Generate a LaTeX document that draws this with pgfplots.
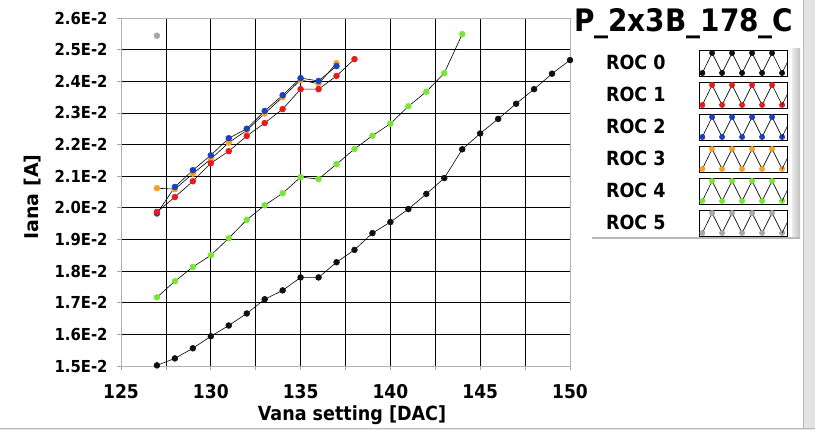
\documentclass[border=0pt]{standalone}
\usepackage{fontspec}
\usepackage{pgfplots}
\pgfplotsset{compat=1.18}
\newfontfamily\cond{DejaVuSansCondensed}[Extension=.ttf, BoldFont=DejaVuSansCondensed-Bold]
\newfontfamily\dvs{DejaVu Sans}
\definecolor{roc0}{HTML}{101010}
\definecolor{roc1}{HTML}{E81A1A}
\definecolor{roc2}{HTML}{1A3FBF}
\definecolor{roc3}{HTML}{F7A124}
\definecolor{roc4}{HTML}{78E632}
\definecolor{roc5}{HTML}{A8A8A8}
\newcommand\legimg[1]{%
  \draw[fill=white, draw=black, line width=0.7bp] (0bp,-13bp) rectangle (88bp,13bp);
  \draw[black, line width=0.6bp] plot[mark=*, mark size=2.6bp, mark options={fill=#1, draw=#1}] coordinates {(3bp,-10bp) (12.7bp,10bp) (22.7bp,-10bp) (32.7bp,10bp) (42.7bp,-10bp) (52.7bp,10bp) (62.7bp,-10bp) (72.7bp,10bp) (82.7bp,-10bp)};
  \draw[black, line width=0.6bp] (82.7bp,-10bp) -- (87.6bp,0bp);
}
\begin{document}
\begin{tikzpicture}[x=1bp,y=1bp]
\path[use as bounding box] (0,0) rectangle (815,430);
\begin{axis}[
  at={(121bp,64bp)}, anchor=south west,
  scale only axis, width=449bp, height=348bp,
  xmin=125, xmax=150, ymin=0.015, ymax=0.026,
  scaled y ticks=false, scaled x ticks=false,
  xtick={125,130,135,140,145,150},
  xticklabels={125,130,135,140,145,150},
  minor xtick={127.5,132.5,137.5,142.5,147.5},
  ytick={0.015,0.016,0.017,0.018,0.019,0.020,0.021,0.022,0.023,0.024,0.025,0.026},
  yticklabels={1.5E-2,1.6E-2,1.7E-2,1.8E-2,1.9E-2,2.0E-2,2.1E-2,2.2E-2,2.3E-2,2.4E-2,2.5E-2,2.6E-2},
  grid=both,
  major grid style={black, line width=0.75bp},
  minor grid style={black, line width=0.75bp},
  axis line style={gray!60, line width=0.75bp},
  tick align=outside, xtick pos=bottom, ytick pos=left,
  major tick length=4bp, minor tick length=4bp,
  tick style={gray!70, line width=0.75bp},
  /pgf/number format/assume math mode=true,
  tick label style={inner sep=0pt},
  xticklabel style={font=\cond\bfseries\fontsize{19bp}{21bp}\selectfont, anchor=north, yshift=-14bp},
  yticklabel style={font=\cond\bfseries\fontsize{16.5bp}{18bp}\selectfont, anchor=east, xshift=-9.3bp},
  xlabel={Vana setting [DAC]},
  xlabel style={at={(axis description cs:0.5145,-0.1572)}, anchor=base, inner sep=0pt, font=\cond\bfseries\fontsize{19.5bp}{21bp}\selectfont},
  ylabel={Iana [A]},
  ylabel style={at={(axis description cs:-0.1842,0.4856)}, anchor=base, inner sep=0pt, font=\dvs\bfseries\fontsize{19bp}{21bp}\selectfont},
  reverse legend,
  legend cell align=left,
  legend plot pos=right,
  legend style={at={(axis description cs:1.0802,0.9091)}, anchor=north west, draw=none, fill=none,
    inner sep=0pt, outer sep=0pt, row sep=5.3bp, column sep=0pt,
    font=\cond\bfseries\fontsize{19.5bp}{21bp}\selectfont, nodes={inner sep=0pt}},
]
\addplot[black, line width=0.6bp, mark=*, mark size=2.9bp, mark options={fill=roc5, draw=roc5}, legend image code/.code={\legimg{roc5}}]
  coordinates {(127,0.02544)};
\addlegendentry{\makebox[93bp][l]{ROC 5}}
\addplot[black, line width=0.6bp, mark=*, mark size=2.9bp, mark options={fill=roc4, draw=roc4}, legend image code/.code={\legimg{roc4}}]
  coordinates {(127,0.01717) (128,0.01768) (129,0.01813) (130,0.01850) (131,0.01904) (132,0.01962) (133,0.02008) (134,0.02046) (135,0.02097) (136,0.02091) (137,0.02138) (138,0.02186) (139,0.02228) (140,0.02266) (141,0.02321) (142,0.02367) (143,0.02426) (144,0.02549)};
\addlegendentry{\makebox[93bp][l]{ROC 4}}
\addplot[black, line width=0.6bp, mark=*, mark size=2.9bp, mark options={fill=roc3, draw=roc3}, legend image code/.code={\legimg{roc3}}]
  coordinates {(127,0.02062) (128,0.02059) (129,0.02108) (130,0.02154) (131,0.02206) (132,0.02245) (133,0.02298) (134,0.02350) (135,0.02404) (136,0.02392) (137,0.02457)};
\addlegendentry{\makebox[93bp][l]{ROC 3}}
\addplot[black, line width=0.6bp, mark=*, mark size=2.9bp, mark options={fill=roc2, draw=roc2}, legend image code/.code={\legimg{roc2}}]
  coordinates {(127,0.01982) (128,0.02066) (129,0.02119) (130,0.02166) (131,0.02220) (132,0.02250) (133,0.02306) (134,0.02356) (135,0.02410) (136,0.02401) (137,0.02448)};
\addlegendentry{\makebox[93bp][l]{ROC 2}}
\addplot[black, line width=0.6bp, mark=*, mark size=2.9bp, mark options={fill=roc1, draw=roc1}, legend image code/.code={\legimg{roc1}}]
  coordinates {(127,0.01987) (128,0.02034) (129,0.02084) (130,0.02141) (131,0.02179) (132,0.02227) (133,0.02268) (134,0.02312) (135,0.02375) (136,0.02375) (137,0.02417) (138,0.02470)};
\addlegendentry{\makebox[93bp][l]{ROC 1}}
\addplot[black, line width=0.6bp, mark=*, mark size=2.9bp, mark options={fill=roc0, draw=roc0}, legend image code/.code={\legimg{roc0}}]
  coordinates {(127,0.01502) (128,0.01524) (129,0.01556) (130,0.01594) (131,0.01628) (132,0.01666) (133,0.01711) (134,0.01739) (135,0.01780) (136,0.01780) (137,0.01828) (138,0.01867) (139,0.01920) (140,0.01955) (141,0.01996) (142,0.02044) (143,0.02094) (144,0.02185) (145,0.02235) (146,0.02281) (147,0.02329) (148,0.02375) (149,0.02424) (150,0.02467)};
\addlegendentry{\makebox[93bp][l]{ROC 0}}
\end{axis}
\node[anchor=base west, inner sep=0pt, font=\cond\bfseries\fontsize{31bp}{34bp}\selectfont] at (574,398.3) {P\_2x3B\_178\_C};
\shade[left color=gray!15, right color=gray!50] (792,192) rectangle (800,382);
\draw[gray!55, line width=1.2bp] (592,192) -- (800,192);
\fill[gray!22] (803,0) rectangle (815,430);
\draw[gray!55, line width=1bp] (803.5,0) -- (803.5,430);
\fill[gray!20] (0,0) rectangle (815,1.5);
\draw[gray!55, line width=1bp] (0,1.8) -- (815,1.8);
\end{tikzpicture}
\end{document}
